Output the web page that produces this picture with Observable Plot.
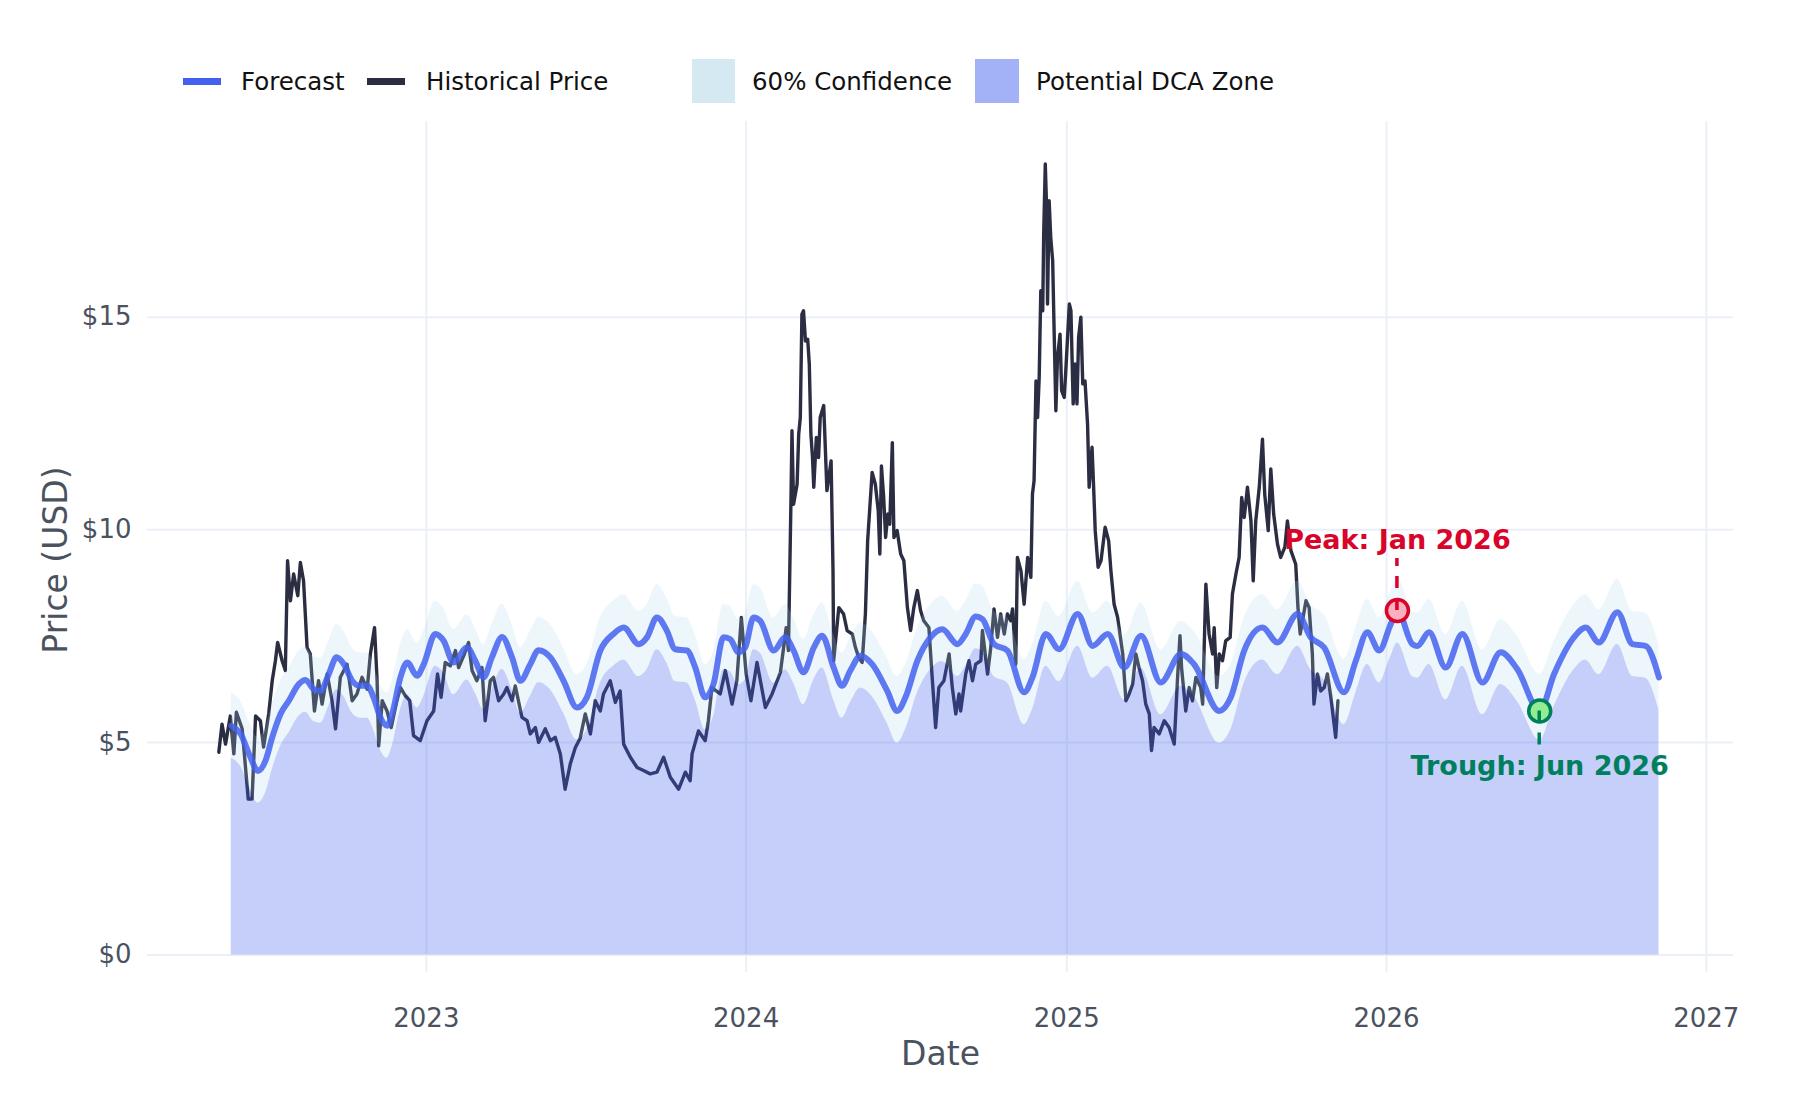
<!DOCTYPE html>
<html><head><meta charset="utf-8">
<script src="https://cdn.jsdelivr.net/npm/d3@7"></script>
<script src="https://cdn.jsdelivr.net/npm/@observablehq/plot@0.6"></script>
<style>
body{margin:0;background:#fff;font-family:"DejaVu Sans",sans-serif;}
#wrap{position:relative;width:1800px;height:1100px;background:#fff;}
#legend{position:relative;width:1800px;height:110px;}
.sw{position:absolute;}
.lt{position:absolute;font-size:24.5px;line-height:24px;color:#111;white-space:nowrap;}
#chart svg{display:block;}
</style></head><body>
<div id="wrap"><div id="legend"></div><div id="chart"></div></div>
<script>
// ---------- data (dates as decimal years) ----------
const histT = [
2022.351,2022.361,2022.372,2022.387,2022.398,2022.406,2022.424,2022.443,2022.455,2022.466,
2022.481,2022.491,2022.507,2022.518,2022.528,2022.535,2022.549,2022.559,2022.566,2022.575,
2022.585,2022.598,2022.606,2022.616,2022.627,2022.637,2022.650,2022.663,2022.674,2022.690,
2022.705,2022.716,2022.731,2022.752,2022.768,2022.783,2022.799,2022.815,2022.825,2022.838,
2022.846,2022.851,2022.862,2022.877,2022.890,2022.908,2022.919,2022.934,2022.948,2022.960,
2022.981,2023.002,2023.023,2023.035,2023.046,2023.059,2023.075,2023.091,2023.101,2023.117,
2023.132,2023.143,2023.158,2023.174,2023.184,2023.200,2023.210,2023.226,2023.242,2023.252,
2023.268,2023.278,2023.299,2023.315,2023.325,2023.341,2023.351,2023.372,2023.388,2023.403,
2023.419,2023.434,2023.450,2023.466,2023.481,2023.497,2023.513,2023.528,2023.544,2023.554,
2023.575,2023.591,2023.606,2023.617,2023.638,2023.659,2023.679,2023.700,2023.721,2023.742,
2023.763,2023.789,2023.810,2023.825,2023.831,2023.851,2023.872,2023.882,2023.893,2023.919,
2023.935,2023.956,2023.971,2023.985,2024.000,2024.015,2024.034,2024.060,2024.081,2024.107,
2024.125,2024.132,2024.140,2024.143,2024.148,2024.159,2024.164,2024.169,2024.174,2024.179,
2024.185,2024.192,2024.197,2024.202,2024.207,2024.211,2024.219,2024.226,2024.231,2024.242,
2024.252,2024.265,2024.271,2024.273,2024.289,2024.304,2024.315,2024.331,2024.341,2024.351,
2024.362,2024.372,2024.379,2024.393,2024.403,2024.412,2024.417,2024.422,2024.429,2024.435,
2024.442,2024.448,2024.456,2024.461,2024.471,2024.482,2024.492,2024.503,2024.513,2024.523,
2024.534,2024.544,2024.554,2024.570,2024.581,2024.591,2024.601,2024.617,2024.633,2024.643,
2024.654,2024.664,2024.669,2024.685,2024.695,2024.706,2024.716,2024.732,2024.737,2024.753,
2024.763,2024.773,2024.784,2024.794,2024.805,2024.815,2024.825,2024.831,2024.841,2024.846,
2024.857,2024.867,2024.878,2024.888,2024.893,2024.898,2024.904,2024.909,2024.914,2024.919,
2024.925,2024.928,2024.933,2024.938,2024.940,2024.945,2024.950,2024.956,2024.961,2024.966,
2024.971,2024.979,2024.984,2024.992,2024.997,2025.008,2025.013,2025.020,2025.026,2025.032,
2025.037,2025.044,2025.050,2025.057,2025.065,2025.070,2025.079,2025.084,2025.089,2025.098,
2025.107,2025.120,2025.131,2025.138,2025.148,2025.159,2025.175,2025.185,2025.195,2025.206,
2025.216,2025.226,2025.237,2025.247,2025.258,2025.265,2025.273,2025.289,2025.305,2025.320,
2025.336,2025.346,2025.354,2025.359,2025.372,2025.383,2025.393,2025.404,2025.419,2025.425,
2025.435,2025.445,2025.456,2025.461,2025.469,2025.477,2025.487,2025.497,2025.511,2025.518,
2025.529,2025.539,2025.547,2025.555,2025.565,2025.576,2025.583,2025.591,2025.602,2025.612,
2025.619,2025.630,2025.638,2025.647,2025.659,2025.669,2025.682,2025.690,2025.701,2025.716,
2025.723,2025.730,2025.748,2025.758,2025.768,2025.773,2025.784,2025.794,2025.805,2025.815,
2025.826,2025.831,2025.841,2025.848];
const histPrice = [
4.77,5.43,4.96,5.62,4.73,5.71,5.32,3.67,3.67,5.62,
5.51,4.89,5.67,6.45,6.92,7.35,6.92,6.69,9.27,8.33,
8.96,8.45,9.23,8.80,7.23,7.08,5.74,6.45,5.90,6.61,
5.98,5.32,6.53,6.84,5.98,6.14,6.53,6.25,7.08,7.70,
6.45,4.92,5.98,5.74,5.35,5.98,6.29,6.10,5.98,5.16,
5.04,5.51,5.74,6.61,6.06,6.88,6.80,7.16,6.76,7.04,
7.35,6.69,6.45,6.76,5.51,6.45,6.53,5.98,6.14,6.29,
5.98,6.33,5.59,5.51,5.20,5.35,5.00,5.32,5.04,5.12,
4.73,3.90,4.49,4.88,5.10,5.67,5.20,5.98,5.74,6.14,
6.45,5.94,6.21,4.96,4.65,4.41,4.34,4.26,4.30,4.65,
4.18,3.90,4.30,4.10,4.73,5.27,5.04,5.51,6.29,6.14,
6.69,5.90,6.45,7.94,6.61,5.98,6.88,5.82,6.14,6.65,
7.70,7.16,10.76,12.33,10.60,11.07,12.25,12.64,15.07,15.15,
14.44,14.48,13.90,12.25,11.70,11.00,12.17,11.70,12.64,12.92,
10.92,11.62,9.04,6.92,8.17,8.02,7.63,7.55,7.23,7.00,
6.88,8.02,9.74,11.35,11.07,10.45,9.43,11.50,10.76,9.82,
10.37,10.13,12.05,9.82,9.98,9.43,9.27,8.17,7.63,8.17,
8.57,8.10,7.86,7.70,6.45,5.35,6.29,6.45,7.08,6.29,
5.67,6.14,5.74,6.61,6.92,6.45,6.84,6.92,7.63,6.61,
7.23,8.14,7.47,8.02,7.55,8.02,7.86,8.14,6.84,9.35,
9.04,8.25,9.35,8.88,10.84,11.15,13.50,12.64,13.58,15.62,
15.15,16.95,18.60,17.34,15.31,17.74,16.87,16.33,14.52,12.80,
14.05,14.60,13.27,13.11,13.74,15.31,15.15,12.96,13.90,12.96,
14.52,15.00,13.43,13.50,12.49,11.00,11.94,11.00,9.98,9.12,
9.27,10.06,9.74,9.04,8.25,7.94,7.08,5.98,6.14,6.37,
7.08,6.76,6.45,5.90,5.67,4.81,5.35,5.20,5.51,5.35,
4.96,6.45,7.51,6.76,5.74,6.29,5.98,6.53,6.29,5.90,
8.72,7.55,7.08,7.70,6.29,7.08,6.92,7.39,7.47,8.49,
8.96,9.35,10.76,10.29,11.00,10.21,8.80,10.21,11.00,12.13,
10.84,9.98,11.43,10.37,9.66,9.35,9.59,10.21,9.51,9.19,
8.17,7.55,8.33,8.17,7.08,5.90,6.61,6.21,6.29,6.61,
6.06,5.74,5.12,5.98];

const fcT = [
2022.390,2022.419,2022.450,2022.473,2022.497,2022.518,2022.544,2022.570,2022.601,2022.622,
2022.648,2022.669,2022.695,2022.719,2022.742,2022.768,2022.792,2022.815,2022.835,2022.856,
2022.877,2022.893,2022.919,2022.940,2022.971,2022.992,2023.028,2023.054,2023.085,2023.127,
2023.153,2023.179,2023.205,2023.237,2023.268,2023.294,2023.325,2023.351,2023.388,2023.429,
2023.471,2023.502,2023.544,2023.585,2023.617,2023.664,2023.690,2023.721,2023.752,2023.778,
2023.815,2023.841,2023.872,2023.898,2023.929,2023.950,2023.976,2023.997,2024.023,2024.044,
2024.086,2024.122,2024.148,2024.179,2024.211,2024.237,2024.273,2024.299,2024.325,2024.357,
2024.393,2024.440,2024.471,2024.497,2024.534,2024.575,2024.612,2024.659,2024.685,2024.716,
2024.737,2024.773,2024.815,2024.867,2024.893,2024.935,2024.976,2025.034,2025.081,2025.128,
2025.180,2025.232,2025.294,2025.357,2025.398,2025.477,2025.513,2025.555,2025.612,2025.659,
2025.722,2025.763,2025.805,2025.867,2025.904,2025.940,2025.977,2026.013,2026.034,2026.081,
2026.097,2026.133,2026.185,2026.237,2026.300,2026.357,2026.409,2026.479,2026.524,2026.586,
2026.623,2026.664,2026.722,2026.769,2026.810,2026.852];
const fcPrice = [
5.39,5.20,4.65,4.33,4.57,5.12,5.67,5.98,6.37,6.47,
6.25,6.21,6.61,7.00,6.84,6.45,6.33,6.33,6.06,5.59,
5.39,5.67,6.53,6.88,6.57,6.84,7.55,7.39,6.88,7.23,
6.92,6.53,7.00,7.48,7.00,6.45,6.84,7.17,7.00,6.45,
5.82,6.06,7.16,7.55,7.70,7.31,7.47,7.94,7.63,7.19,
7.16,6.76,6.06,6.37,7.47,7.43,7.12,7.23,7.94,7.86,
7.16,7.47,7.16,6.65,7.23,7.51,6.76,6.33,6.69,7.04,
6.84,6.21,5.74,6.06,6.92,7.47,7.66,7.31,7.55,7.96,
7.90,7.31,7.16,6.18,6.53,7.55,7.19,8.02,7.27,7.55,
6.76,7.51,6.41,7.08,6.84,5.74,6.06,7.16,7.70,7.35,
8.02,7.47,7.23,6.18,6.92,7.59,7.16,7.78,8.10,7.31,
7.27,7.59,6.76,7.55,6.41,7.12,6.72,5.74,6.61,7.47,
7.70,7.35,8.06,7.31,7.27,6.53];
const fcUpper = [
6.16,5.97,5.42,5.10,5.34,5.89,6.44,6.75,7.14,7.24,
7.02,6.98,7.38,7.77,7.61,7.22,7.10,7.10,6.83,6.36,
6.16,6.44,7.30,7.65,7.34,7.61,8.32,8.16,7.65,8.00,
7.69,7.30,7.77,8.25,7.77,7.22,7.61,7.94,7.77,7.22,
6.59,6.83,7.93,8.32,8.47,8.08,8.24,8.71,8.40,7.96,
7.93,7.53,6.83,7.14,8.24,8.20,7.89,8.00,8.71,8.63,
7.93,8.24,7.93,7.42,8.00,8.28,7.53,7.10,7.46,7.81,
7.61,6.98,6.55,6.83,7.69,8.24,8.43,8.08,8.32,8.73,
8.67,8.08,7.93,6.95,7.30,8.32,7.96,8.79,8.04,8.32,
7.53,8.28,7.18,7.85,7.61,6.55,6.83,7.93,8.47,8.12,
8.79,8.24,8.00,6.95,7.69,8.36,7.93,8.55,8.87,8.08,
8.04,8.36,7.53,8.32,7.18,7.89,7.49,6.60,7.38,8.24,
8.47,8.12,8.83,8.08,8.04,7.30];
const fcLower = [
4.63,4.44,3.89,3.57,3.81,4.36,4.91,5.22,5.61,5.71,
5.49,5.45,5.85,6.24,6.08,5.69,5.57,5.57,5.30,4.83,
4.63,4.91,5.77,6.12,5.81,6.08,6.79,6.63,6.12,6.47,
6.16,5.77,6.24,6.72,6.24,5.69,6.08,6.41,6.24,5.69,
5.06,5.30,6.40,6.79,6.94,6.55,6.71,7.18,6.87,6.43,
6.40,6.00,5.30,5.61,6.71,6.67,6.36,6.47,7.18,7.10,
6.40,6.71,6.40,5.89,6.47,6.75,6.00,5.57,5.93,6.28,
6.08,5.45,4.98,5.30,6.16,6.71,6.90,6.55,6.79,7.20,
7.14,6.55,6.40,5.42,5.77,6.79,6.43,7.26,6.51,6.79,
6.00,6.75,5.65,6.32,6.08,4.98,5.30,6.40,6.94,6.59,
7.26,6.71,6.47,5.42,6.16,6.83,6.40,7.02,7.34,6.55,
6.51,6.83,6.00,6.79,5.65,6.36,5.96,5.05,5.85,6.71,
6.94,6.59,7.30,6.55,6.51,5.77];

const yearTicks = [2023, 2024, 2025, 2026, 2027];
const priceTicks = [0, 5, 10, 15];
const xRange = [2022.128, 2027.085];
const yRange = [-0.41, 19.6];
const legendItems = ["Forecast", "Historical Price", "60% Confidence", "Potential DCA Zone"];

// ---------- helpers ----------
const toDate = t => { const y = Math.floor(t); const a = Date.UTC(y,0,1), b = Date.UTC(y+1,0,1); return new Date(a + (t - y) * (b - a)); };
const hist = histT.map((t, i) => ({date: toDate(t), v: histPrice[i]}));
const fc = fcT.map((t, i) => ({date: toDate(t), v: fcPrice[i], hi: fcUpper[i], lo: fcLower[i]}));
const histEnd = hist[hist.length - 1].date;
const future = fc.filter(d => d.date > histEnd);
const peak = future.reduce((a, b) => b.v > a.v ? b : a);
const trough = future.reduce((a, b) => b.v < a.v ? b : a);
const fmt = d3.utcFormat("%b %Y");
const xTickDates = yearTicks.map(y => new Date(Date.UTC(y, 0, 1)));

// ---------- legend ----------
const leg = document.getElementById("legend");
const legendSpec = [
  {sw: {left:183, top:78, width:38, height:7, background:"#4361ee"}, tx: 241},
  {sw: {left:367, top:78, width:38, height:7, background:"#2b2d42"}, tx: 426},
  {sw: {left:692, top:59, width:43, height:44, background:"#d4e9f1"}, tx: 752},
  {sw: {left:975, top:59, width:44, height:44, background:"#a3b1f7"}, tx: 1036}
];
legendSpec.forEach((s, i) => {
  const sw = document.createElement("div"); sw.className = "sw";
  Object.entries(s.sw).forEach(([k, v]) => sw.style[k] = typeof v === "number" ? v + "px" : v);
  leg.appendChild(sw);
  const t = document.createElement("div"); t.className = "lt";
  t.style.left = s.tx + "px"; t.style.top = "70px"; t.textContent = legendItems[i];
  leg.appendChild(t);
});

// ---------- chart ----------
const gridStyle = {stroke: "#ebf0f8", strokeOpacity: 1, strokeWidth: 2};
const chart = Plot.plot({
  width: 1800, height: 990,
  marginTop: 11, marginBottom: 128, marginLeft: 147, marginRight: 67,
  style: {fontFamily: '"DejaVu Sans", sans-serif', fontSize: "26px", color: "#4a5260", background: "#fff", overflow: "visible"},
  x: {type: "utc", domain: xRange.map(toDate)},
  y: {domain: yRange},
  marks: [
    Plot.gridX(xTickDates, gridStyle),
    Plot.gridY(priceTicks, gridStyle),
    Plot.axisX(xTickDates, {tickSize: 0, tickPadding: 36, tickFormat: d3.utcFormat("%Y"), label: null, fontSize: 26}),
    Plot.axisY(priceTicks, {tickSize: 0, tickPadding: 16, tickFormat: d => "$" + d, label: null, fontSize: 26}),
    Plot.lineY(hist, {x: "date", y: "v", stroke: "#2b2d42", strokeWidth: 3.4, strokeLinejoin: "round"}),
    Plot.areaY(fc, {x: "date", y1: "lo", y2: "hi", fill: "#add8e6", fillOpacity: 0.22, curve: "monotone-x"}),
    Plot.areaY(fc, {x: "date", y1: 0, y2: "lo", fill: "#4361ee", fillOpacity: 0.3, curve: "monotone-x"}),
    Plot.lineY(fc, {x: "date", y: "v", stroke: "#4361ee", strokeOpacity: 0.85, strokeWidth: 6, curve: "monotone-x"}),
    Plot.dot([peak], {x: "date", y: "v", r: 11, fill: "#fbb0c0", stroke: "#d90429", strokeWidth: 3.5}),
    Plot.dot([trough], {x: "date", y: "v", r: 11, fill: "#90ee90", stroke: "#007f5f", strokeWidth: 3.5}),
    Plot.text([peak], {x: "date", y: "v", text: d => "Peak: " + fmt(d.date), dy: -62, lineAnchor: "bottom", fontSize: 27, fontWeight: "bold", fill: "#d90429"}),
    Plot.text([trough], {x: "date", y: "v", text: d => "Trough: " + fmt(d.date), dy: 64, lineAnchor: "bottom", fontSize: 27, fontWeight: "bold", fill: "#007f5f"}),
    Plot.text(["Date"], {text: d => d, frameAnchor: "bottom", dy: 82, lineAnchor: "middle", fontSize: 33}),
    Plot.text(["Price (USD)"], {text: d => d, frameAnchor: "left", dx: -91, dy: 13, rotate: -90, lineAnchor: "middle", textAnchor: "middle", fontSize: 33})
  ]
});
document.getElementById("chart").appendChild(chart);

// dashed connectors from markers to labels, placed with the plot's own scales
const sx = chart.scale("x"), sy = chart.scale("y");
const svg = d3.select(chart);
function connector(pt, len, color) {
  const x = sx.apply(pt.date), y = sy.apply(pt.v);
  svg.append("line").attr("x1", x).attr("x2", x).attr("y1", y).attr("y2", y + len)
    .attr("stroke", color).attr("stroke-width", 3.5).attr("stroke-dasharray", "12,10");
}
connector(peak, -52, "#d90429");
connector(trough, 37, "#007f5f");
</script></body></html>
